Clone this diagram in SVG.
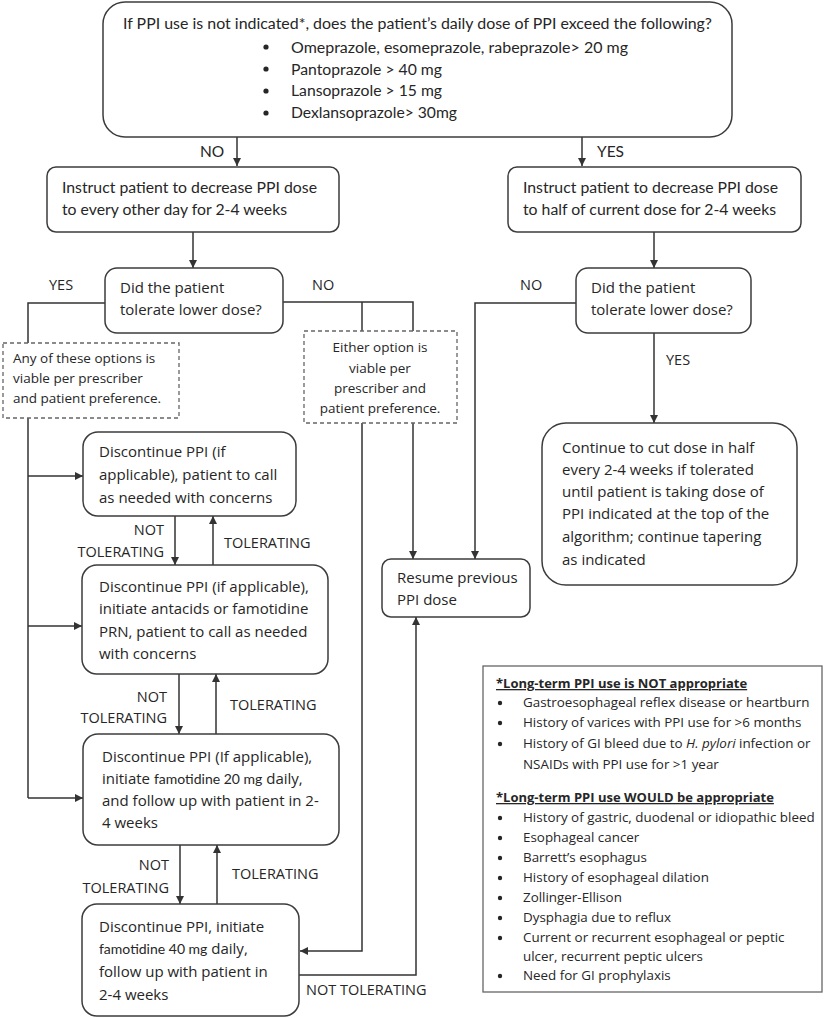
<svg xmlns="http://www.w3.org/2000/svg" width="832" height="1018" viewBox="0 0 832 1018">
<defs>
<marker id="ah" viewBox="0 0 10 10" refX="10" refY="5" markerWidth="8" markerHeight="8" markerUnits="userSpaceOnUse" orient="auto">
<path d="M0,0 L10,5 L0,10 z" fill="#333"/>
</marker>
<style>
.box{fill:#fff;stroke:#3c3c3c;stroke-width:1.5}
.dash{fill:#fff;stroke:#666;stroke-width:1.3;stroke-dasharray:4 3}
.leg{fill:#fff;stroke:#666;stroke-width:1.3}
.c{fill:none;stroke:#333;stroke-width:1.5}
.ca{fill:none;stroke:#333;stroke-width:1.5;marker-end:url(#ah)}
.cal{font-family:Lato,"Liberation Sans",sans-serif;font-size:15.5px;fill:#262626}
.t{font-family:"Open Sans","Liberation Sans",sans-serif;font-size:15px;fill:#262626}
.s{font-family:"Open Sans","Liberation Sans",sans-serif;font-size:13.5px;fill:#262626}
.lb{font-family:"Open Sans","Liberation Sans",sans-serif;font-size:14.5px;fill:#262626}
.lg{font-family:"Open Sans","Liberation Sans",sans-serif;font-size:13.4px;fill:#262626}
.lh{font-family:"Open Sans","Liberation Sans",sans-serif;font-size:13px;font-weight:bold;fill:#262626;text-decoration:underline}
.end{text-anchor:end}
.mid{text-anchor:middle}
</style>
</defs>

<g id="connectors">
<path class="ca" d="M237,137 V166"/>
<path class="ca" d="M582,137 V166"/>
<path class="ca" d="M193,232 V268"/>
<path class="ca" d="M654,232 V268"/>
<path class="c" d="M105,303 H28 V343"/>
<path class="c" d="M28,418 V798"/>
<path class="ca" d="M28,476 H83"/>
<path class="ca" d="M28,626 H82"/>
<path class="ca" d="M28,798 H83"/>
<path class="c" d="M283,302 H413 V331"/>
<path class="c" d="M362,302 V331"/>
<path class="ca" d="M362,423 V951 H300"/>
<path class="ca" d="M413,423 V559"/>
<path class="ca" d="M576,303 H475 V559"/>
<path class="ca" d="M654,333 V423"/>
<path class="ca" d="M175,516 V565"/>
<path class="ca" d="M213,565 V516"/>
<path class="ca" d="M179,674 V734"/>
<path class="ca" d="M216,734 V674"/>
<path class="ca" d="M180,845 V904"/>
<path class="ca" d="M217,904 V845"/>
<path class="ca" d="M299,975 H416 V617"/>
</g>

<g id="labels">
<text class="cal" x="200" y="157" font-size="15">NO</text>
<text class="cal" x="597" y="157" font-size="15">YES</text>
<text class="lb" x="49" y="290">YES</text>
<text class="lb" x="312" y="290">NO</text>
<text class="lb" x="520" y="290">NO</text>
<text class="lb" x="666" y="365">YES</text>
<text class="lb end" x="164" y="535">NOT</text>
<text class="lb end" x="164" y="557">TOLERATING</text>
<text class="lb" x="224" y="548">TOLERATING</text>
<text class="lb end" x="167" y="702">NOT</text>
<text class="lb end" x="167" y="723">TOLERATING</text>
<text class="lb" x="230" y="710">TOLERATING</text>
<text class="lb end" x="169" y="870">NOT</text>
<text class="lb end" x="169" y="893">TOLERATING</text>
<text class="lb" x="232" y="879">TOLERATING</text>
<text class="lb" x="306" y="995">NOT TOLERATING</text>
</g>

<g id="start">
<rect class="box" x="103" y="2" width="629" height="135" rx="22"/>
<text class="cal" x="123" y="29" textLength="589" lengthAdjust="spacingAndGlyphs">If PPI use is not indicated*, does the patient’s daily dose of PPI exceed the following?</text>
<circle cx="266" cy="47" r="2.6" fill="#262626"/>
<circle cx="266" cy="69" r="2.6" fill="#262626"/>
<circle cx="266" cy="91" r="2.6" fill="#262626"/>
<circle cx="266" cy="113" r="2.6" fill="#262626"/>
<text class="cal" x="291" y="53" textLength="337" lengthAdjust="spacingAndGlyphs">Omeprazole, esomeprazole, rabeprazole&gt; 20 mg</text>
<text class="cal" x="291" y="75" textLength="151" lengthAdjust="spacingAndGlyphs">Pantoprazole &gt; 40 mg</text>
<text class="cal" x="291" y="96" textLength="151" lengthAdjust="spacingAndGlyphs">Lansoprazole &gt; 15 mg</text>
<text class="cal" x="291" y="118" textLength="166" lengthAdjust="spacingAndGlyphs">Dexlansoprazole&gt; 30mg</text>
</g>

<g id="instruct-left">
<rect class="box" x="47" y="167" width="292" height="65" rx="9"/>
<text class="cal" x="62" y="193" textLength="255" lengthAdjust="spacingAndGlyphs">Instruct patient to decrease PPI dose</text>
<text class="cal" x="62" y="215" textLength="225" lengthAdjust="spacingAndGlyphs">to every other day for 2-4 weeks</text>
</g>

<g id="instruct-right">
<rect class="box" x="508" y="167" width="293" height="65" rx="9"/>
<text class="cal" x="523" y="193" textLength="255" lengthAdjust="spacingAndGlyphs">Instruct patient to decrease PPI dose</text>
<text class="cal" x="523" y="215" textLength="253" lengthAdjust="spacingAndGlyphs">to half of current dose for 2-4 weeks</text>
</g>

<g id="decision-left">
<rect class="box" x="105" y="268" width="178" height="65" rx="12"/>
<text class="t" x="120" y="293">Did the patient</text>
<text class="t" x="120" y="315">tolerate lower dose?</text>
</g>

<g id="decision-right">
<rect class="box" x="576" y="268" width="175" height="65" rx="12"/>
<text class="t" x="591" y="293">Did the patient</text>
<text class="t" x="591" y="315">tolerate lower dose?</text>
</g>

<g id="note-any">
<rect class="dash" x="3" y="343" width="176" height="75"/>
<text class="s" x="13" y="363">Any of these options is</text>
<text class="s" x="13" y="383">viable per prescriber</text>
<text class="s" x="13" y="403">and patient preference.</text>
</g>

<g id="note-either">
<rect class="dash" x="304" y="331" width="153" height="92"/>
<text class="s mid" x="380" y="352">Either option is</text>
<text class="s mid" x="380" y="373">viable per</text>
<text class="s mid" x="380" y="393">prescriber and</text>
<text class="s mid" x="380" y="413">patient preference.</text>
</g>

<g id="discontinue-1">
<rect class="box" x="83" y="432" width="213" height="84" rx="15"/>
<text class="t" x="99" y="457">Discontinue PPI (if</text>
<text class="t" x="99" y="480">applicable), patient to call</text>
<text class="t" x="99" y="503">as needed with concerns</text>
</g>

<g id="discontinue-2">
<rect class="box" x="82" y="565" width="246" height="109" rx="15"/>
<text class="t" x="99" y="592">Discontinue PPI (if applicable),</text>
<text class="t" x="99" y="614">initiate antacids or famotidine</text>
<text class="t" x="99" y="637">PRN, patient to call as needed</text>
<text class="t" x="99" y="659">with concerns</text>
</g>

<g id="discontinue-3">
<rect class="box" x="83" y="734" width="256" height="111" rx="15"/>
<text class="t" x="102" y="762">Discontinue PPI (If applicable),</text>
<text class="t" x="102" y="784">initiate  <tspan font-family="Lato, 'Liberation Sans', sans-serif" font-size="14">famotidine 20 mg</tspan>  daily,</text>
<text class="t" x="102" y="806">and follow up with patient in 2-</text>
<text class="t" x="102" y="828">4 weeks</text>
</g>

<g id="discontinue-4">
<rect class="box" x="82" y="904" width="217" height="112" rx="15"/>
<text class="t" x="99" y="932">Discontinue PPI, initiate</text>
<text class="t" x="99" y="954"><tspan font-family="Lato, 'Liberation Sans', sans-serif" font-size="14">famotidine 40 mg</tspan> daily,</text>
<text class="t" x="99" y="977">follow up with patient in</text>
<text class="t" x="99" y="1000">2-4 weeks</text>
</g>

<g id="continue">
<rect class="box" x="542" y="423" width="255" height="162" rx="24"/>
<text class="t" x="562" y="453">Continue to cut dose in half</text>
<text class="t" x="562" y="475">every 2-4 weeks if tolerated</text>
<text class="t" x="562" y="497">until patient is taking dose of</text>
<text class="t" x="562" y="519">PPI indicated at the top of the</text>
<text class="t" x="562" y="542">algorithm; continue tapering</text>
<text class="t" x="562" y="565">as indicated</text>
</g>

<g id="resume">
<rect class="box" x="382" y="559" width="148" height="58" rx="9"/>
<text class="t" x="397" y="583">Resume previous</text>
<text class="t" x="397" y="605">PPI dose</text>
</g>

<g id="legend">
<rect class="leg" x="483" y="666" width="339" height="326"/>
<text class="lh" x="496" y="688">*Long-term PPI use is NOT appropriate</text>
<g fill="#262626">
<circle cx="500" cy="703" r="2.2"/><circle cx="500" cy="723" r="2.2"/><circle cx="500" cy="744" r="2.2"/>
<circle cx="500" cy="818" r="2.2"/><circle cx="500" cy="838" r="2.2"/><circle cx="500" cy="858" r="2.2"/>
<circle cx="500" cy="878" r="2.2"/><circle cx="500" cy="898" r="2.2"/><circle cx="500" cy="918" r="2.2"/>
<circle cx="500" cy="938" r="2.2"/><circle cx="500" cy="976" r="2.2"/>
</g>
<text class="lg" x="523" y="707">Gastroesophageal reflex disease or heartburn</text>
<text class="lg" x="523" y="727">History of varices with PPI use for &gt;6 months</text>
<text class="lg" x="523" y="748">History of GI bleed due to <tspan font-style="italic">H. pylori</tspan> infection or</text>
<text class="lg" x="523" y="769">NSAIDs with PPI use for &gt;1 year</text>
<text class="lh" x="496" y="802">*Long-term PPI use WOULD be appropriate</text>
<text class="lg" x="523" y="822">History of gastric, duodenal or idiopathic bleed</text>
<text class="lg" x="523" y="842">Esophageal cancer</text>
<text class="lg" x="523" y="862">Barrett’s esophagus</text>
<text class="lg" x="523" y="882">History of esophageal dilation</text>
<text class="lg" x="523" y="902">Zollinger-Ellison</text>
<text class="lg" x="523" y="922">Dysphagia due to reflux</text>
<text class="lg" x="523" y="942">Current  or recurrent esophageal or peptic</text>
<text class="lg" x="523" y="961">ulcer, recurrent peptic ulcers</text>
<text class="lg" x="523" y="980">Need for GI prophylaxis</text>
</g>
</svg>
